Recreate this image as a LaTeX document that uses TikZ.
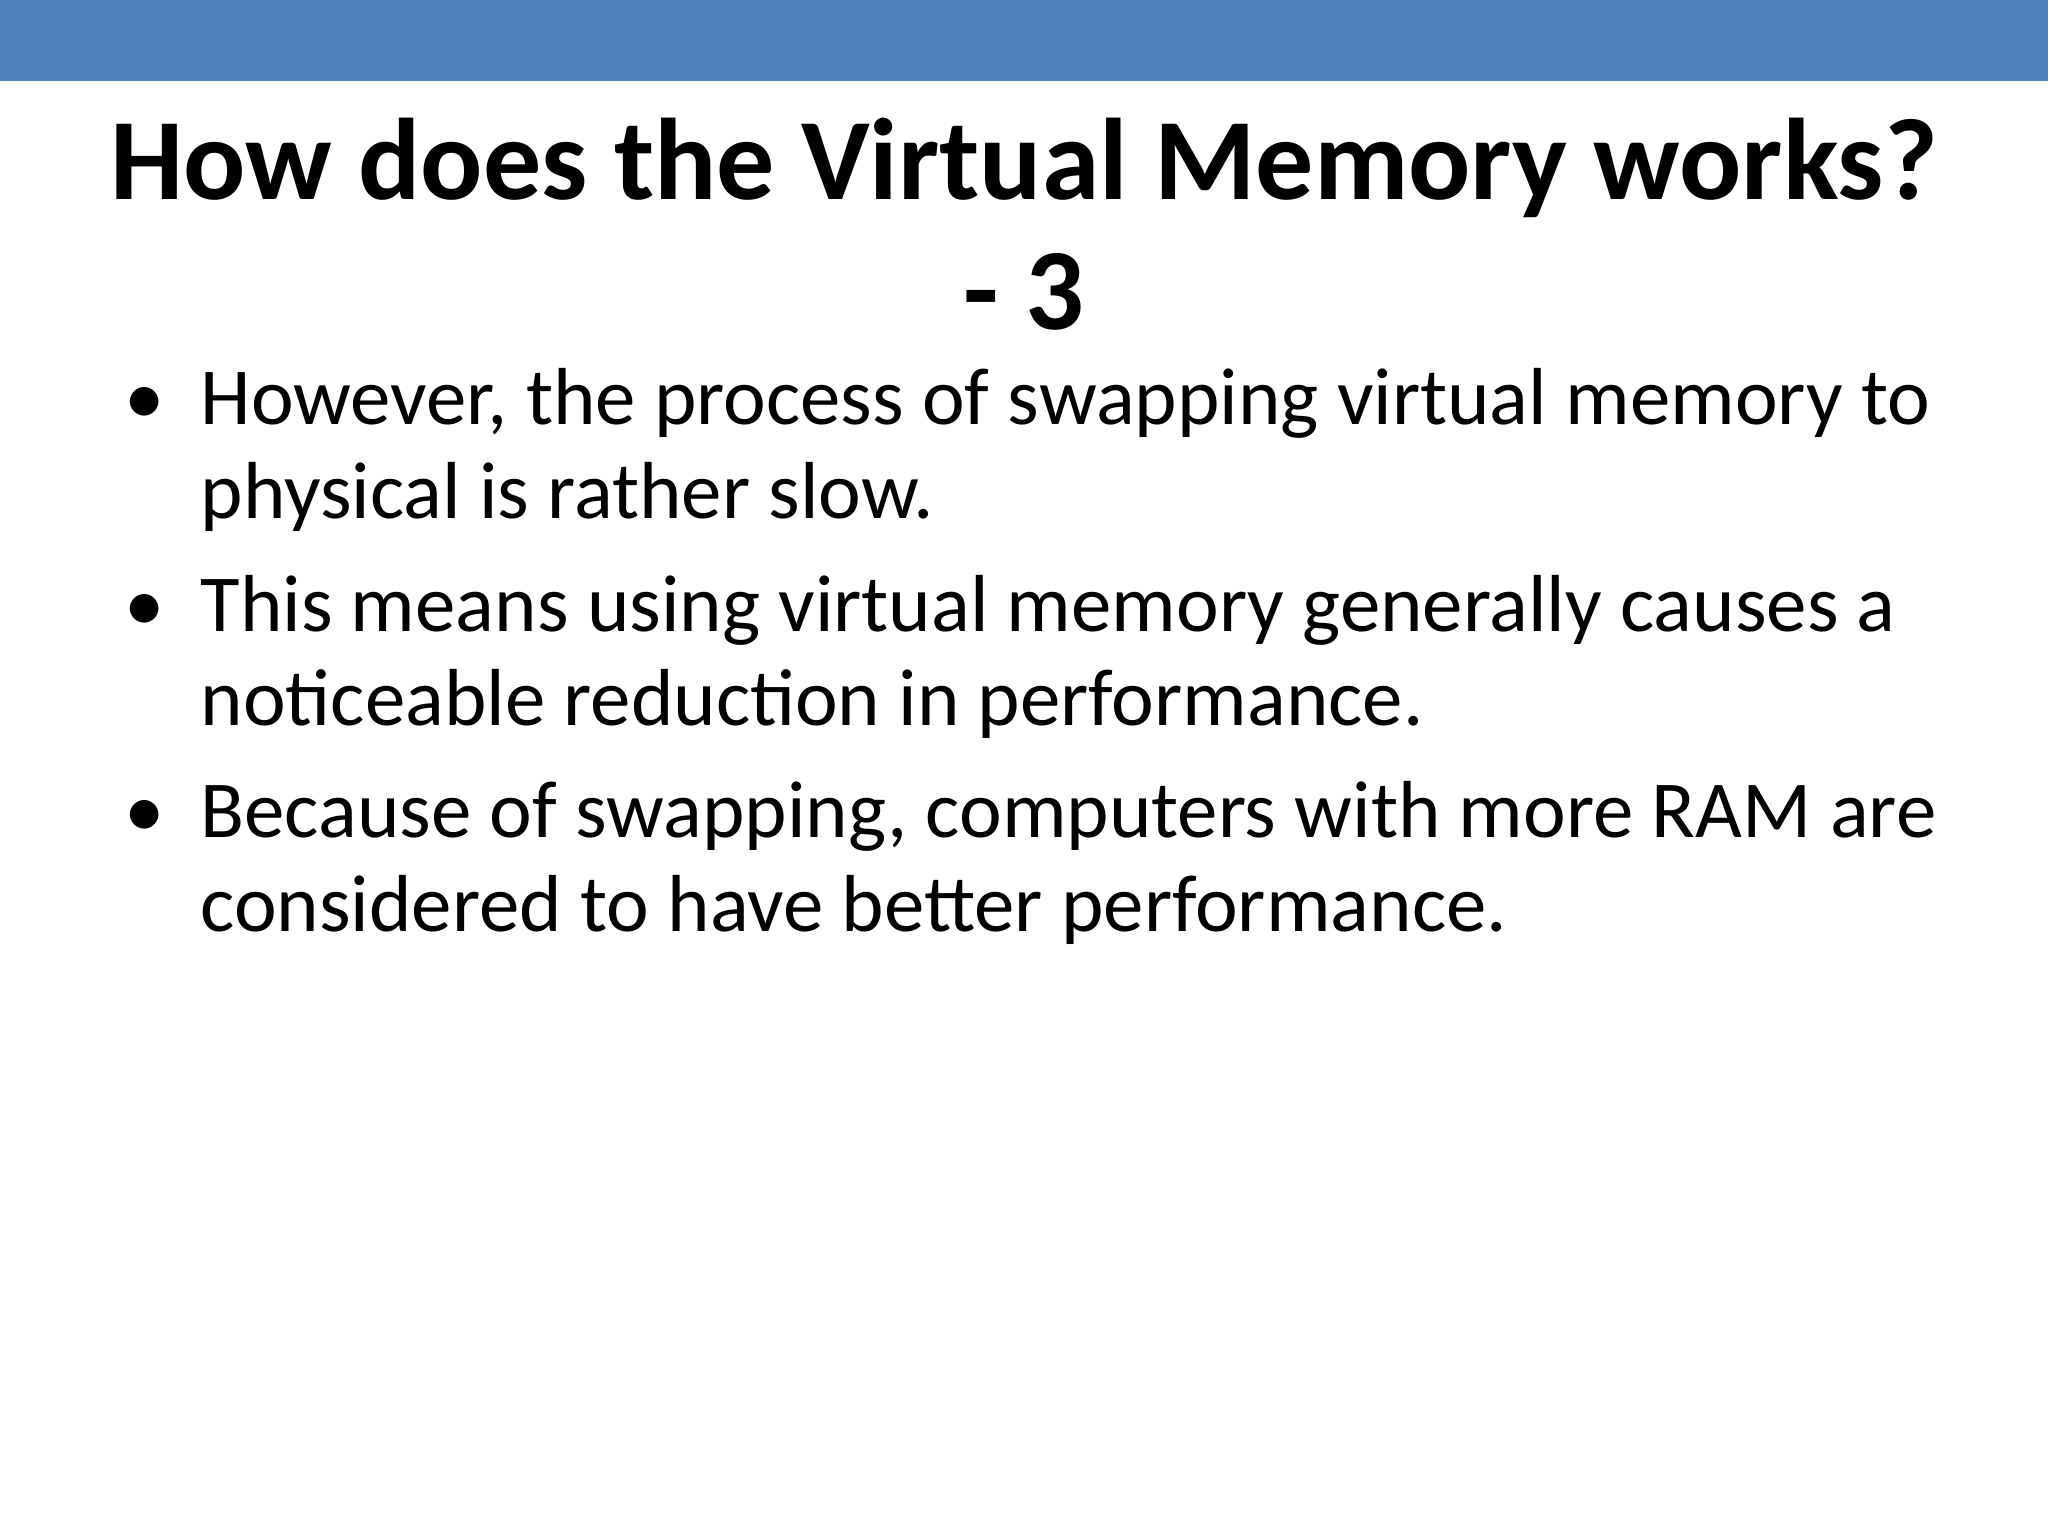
\documentclass[tikz,border=0pt]{standalone}
\usepackage{fontspec}
\setmainfont{Carlito}
\definecolor{barblue}{HTML}{4F81BD}
\begin{document}
\begin{tikzpicture}[x=0.01cm,y=-0.01cm,
  ttl/.style={font=\fontsize{33}{40}\selectfont\bfseries,anchor=base,inner sep=0},
  txt/.style={font=\fontsize{23}{27}\selectfont,anchor=base west,inner sep=0}]
\useasboundingbox (0,0) rectangle (2048,1536);
\fill[white] (0,0) rectangle (2048,1536);
\fill[barblue] (0,0) rectangle (2048,81);
\node[ttl] (t1) at (1024,199) {How does the Virtual Memory works?};
\node[ttl] (t2) at (1024,329) {- 3};
\node[txt] (b1) at (124,424) {\textbullet};
\node[txt] (l1) at (200,424) {However, the process of swapping virtual memory to};
\node[txt] (l2) at (200,518) {physical is rather slow.};
\node[txt] (b2) at (124,631) {\textbullet};
\node[txt] (l3) at (200,631) {This means using virtual memory generally causes a};
\node[txt] (l4) at (200,725) {noticeable reduction in performance.};
\node[txt] (b3) at (124,837) {\textbullet};
\node[txt] (l5) at (200,837) {Because of swapping, computers with more RAM are};
\node[txt] (l6) at (200,931) {considered to have better performance.};
\end{tikzpicture}
\end{document}
